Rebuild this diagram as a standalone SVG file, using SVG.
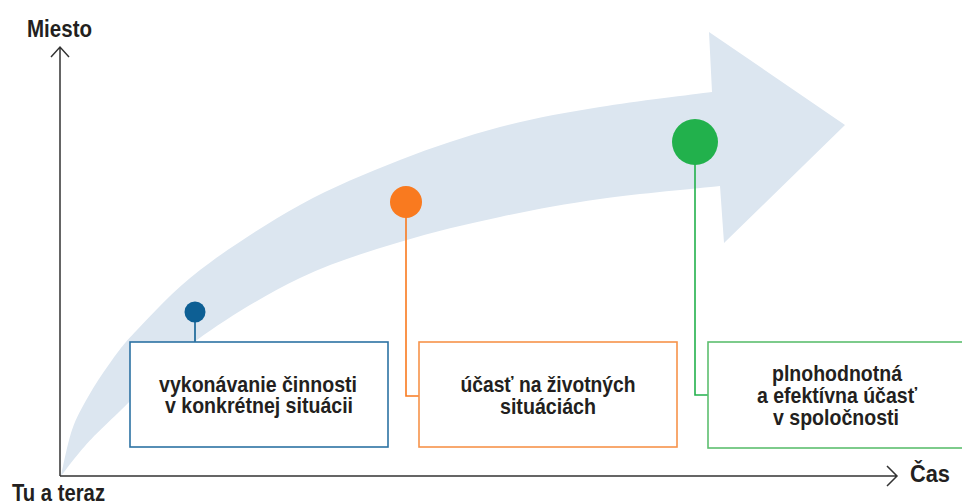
<svg xmlns="http://www.w3.org/2000/svg" width="962" height="504" viewBox="0 0 962 504">
<style>
text{font-family:"Liberation Sans",Arial,sans-serif;font-weight:bold;fill:#231f20;font-size:23px}
.lbl{text-anchor:middle;font-size:22px}
.axis{stroke:#333;stroke-width:1.5;fill:none}
.box{fill:#fff;stroke-width:1.6}
</style>
<rect width="962" height="504" fill="#fff"/>
<g id="arrow">
<path fill="#dce6f0" d="M61,476 C62.8,468.3 67.5,443.2 72,430 C76.5,416.8 81.7,408.2 88,397 C94.3,385.8 101.8,374.2 110,363 C118.2,351.8 122,345.5 137,330 C152,314.5 172.8,290.8 200,270 C227.2,249.2 266.7,223.3 300,205 C333.3,186.7 366.7,173 400,160 C433.3,147 466.7,135.8 500,127 C533.3,118.2 564.7,112.8 600,107 C635.3,101.2 693.3,94.5 712,92 L709,32 L845,125 L724,243 L720,186 C700,188.2 636.7,193.8 600,199 C563.3,204.2 533.3,209.8 500,217 C466.7,224.2 433.3,231.8 400,242 C366.7,252.2 333.8,261.7 300,278 C266.2,294.3 227.3,317.5 197,340 C166.7,362.5 136.7,395.3 118,413 C99.3,430.7 94.5,435.5 85,446 C75.5,456.5 65,471 61,476 Z"/>
</g>
<g id="axes">
<path class="axis" d="M60,476 V47 M51,57 L60,47 L69,57"/>
<path class="axis" d="M60,476 H897 M887,466 L897,476 L887,486"/>
<text x="27" y="37" textLength="65" lengthAdjust="spacingAndGlyphs">Miesto</text>
<text x="12" y="501" textLength="93" lengthAdjust="spacingAndGlyphs">Tu a teraz</text>
<text x="910" y="482" textLength="40" lengthAdjust="spacingAndGlyphs">Čas</text>
</g>
<g id="connectors" fill="none" stroke-width="1.6">
<path stroke="#0d5f94" d="M195,312 V342"/>
<path stroke="#f97a1f" d="M406,202 V396 H419"/>
<path stroke="#22b14c" d="M695,142 V395 H708"/>
</g>
<g id="node1">
<circle cx="195" cy="312" r="10.5" fill="#0d5f94"/>
<rect class="box" x="130" y="342" width="258" height="105" stroke="#2c72a3"/>
<text class="lbl" x="258" y="392" textLength="198" lengthAdjust="spacingAndGlyphs">vykonávanie činnosti</text>
<text class="lbl" x="259" y="413" textLength="188" lengthAdjust="spacingAndGlyphs">v konkrétnej situácii</text>
</g>
<g id="node2">
<circle cx="406" cy="202" r="16" fill="#f97a1f"/>
<rect class="box" x="419" y="342" width="258" height="105" stroke="#f7934a"/>
<text class="lbl" x="548" y="392" textLength="175" lengthAdjust="spacingAndGlyphs">účasť na životných</text>
<text class="lbl" x="548" y="414" textLength="96" lengthAdjust="spacingAndGlyphs">situáciách</text>
</g>
<g id="node3">
<circle cx="695" cy="142" r="23" fill="#22b14c"/>
<rect class="box" x="708" y="342" width="258" height="106" stroke="#5dbf6f"/>
<text class="lbl" x="837" y="381" textLength="130" lengthAdjust="spacingAndGlyphs">plnohodnotná</text>
<text class="lbl" x="837" y="403" textLength="160" lengthAdjust="spacingAndGlyphs">a efektívna účasť</text>
<text class="lbl" x="836" y="425" textLength="126" lengthAdjust="spacingAndGlyphs">v spoločnosti</text>
</g>
</svg>
